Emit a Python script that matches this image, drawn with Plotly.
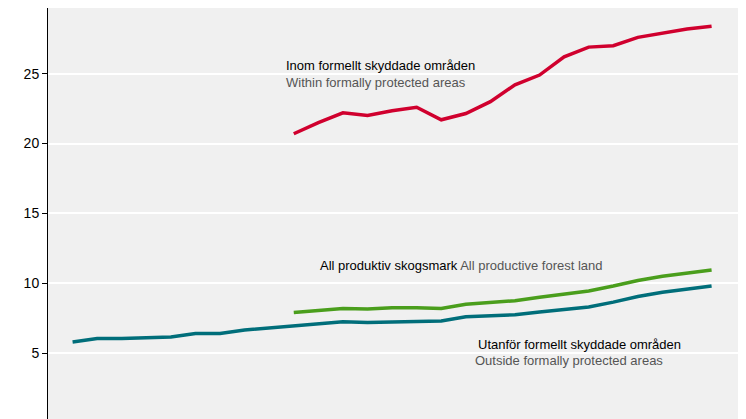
import plotly.graph_objects as go

x_idx = list(range(27))
outside = [5.8,6.05,6.05,6.1,6.15,6.4,6.4,6.65,6.8,7.0,7.15,7.25,7.2,7.25,7.25,7.3,7.6,7.7,7.75,7.95,8.15,8.3,8.65,9.05,9.35,9.6,9.8]
allprod = [None]*9 + [7.9,8.05,8.2,8.15,8.25,8.25,8.2,8.5,8.6,8.75,9.0,9.25,9.45,9.8,10.2,10.5,10.75,10.95]
within = [None]*9 + [20.7,21.5,22.2,22.0,22.35,22.6,21.7,22.15,23.0,24.2,24.9,26.2,26.9,27.0,27.6,27.9,28.2,28.4]
y_ticks = [0,5,10,15,20,25,30]
x_ticks = [-1,2,5,8,11,14,17,20,23,26]

fig = go.Figure()
fig.add_trace(go.Scatter(x=x_idx, y=outside, mode="lines", line=dict(color="#006e7a", width=3.5)))
fig.add_trace(go.Scatter(x=x_idx, y=allprod, mode="lines", line=dict(color="#4a9e1c", width=3.5)))
fig.add_trace(go.Scatter(x=x_idx, y=within, mode="lines", line=dict(color="#d0002e", width=3.5)))

F = "Liberation Sans, Arial, sans-serif"
def ann(x, y, text, xanchor="left"):
    fig.add_annotation(x=x, y=y, xref="x", yref="y", text=text, showarrow=False,
                       xanchor=xanchor, yanchor="middle", align="left", font=dict(family=F, size=13))
ann(8.6, 25.6, "<span style='color:#000'>Inom formellt skyddade områden</span>")
ann(8.6, 24.4, "<span style='color:#555'>Within formally protected areas</span>")
ann(9.98, 11.25, "<span style='color:#000'>All produktiv skogsmark</span> <span style='color:#555'>All productive forest land</span>")
ann(16.4, 5.6, "<span style='color:#000'>Utanför formellt skyddade områden</span>")
ann(16.3, 4.45, "<span style='color:#555'>Outside formally protected areas</span>")

fig.update_layout(
    width=746, height=419, showlegend=False,
    margin=dict(l=40, r=8, t=0, b=4),
    paper_bgcolor="white", plot_bgcolor="#f0f0f0",
    font=dict(family=F, size=14, color="#000"),
    xaxis=dict(range=[-1, 27.4], tickmode="array", tickvals=x_ticks, showticklabels=False,
               ticks="outside", ticklen=5, tickcolor="#000", showgrid=False, zeroline=False,
               showline=True, linecolor="#000", linewidth=1, automargin=False),
    yaxis=dict(range=[0, 29.7], tickmode="array", tickvals=y_ticks, ticks="outside", ticklen=5,
               tickcolor="#000", showgrid=True, gridcolor="white", gridwidth=1.5, zeroline=False,
               showline=True, linecolor="#000", linewidth=1, automargin=False),
)
fig.write_html("out.html")
